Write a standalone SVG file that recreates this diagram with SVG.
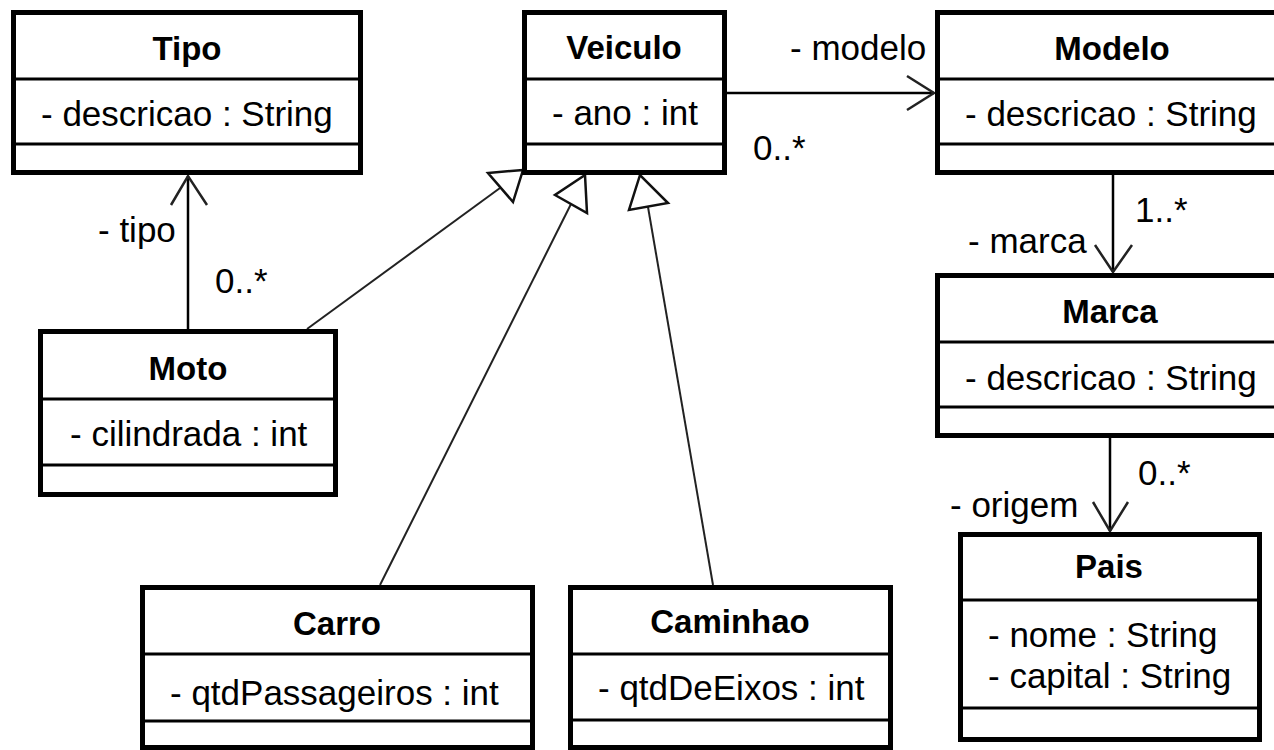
<svg xmlns="http://www.w3.org/2000/svg" width="1274" height="750" viewBox="0 0 1274 750">
<style>
.box{fill:#fff;stroke:#000;stroke-width:5}
.sep{stroke:#000;stroke-width:3}
.title{font-family:"Liberation Sans",Arial,sans-serif;font-size:33px;font-weight:bold;text-anchor:middle;fill:#000}
.attr{font-family:"Liberation Sans",Arial,sans-serif;font-size:35px;fill:#000}
.lbl{font-family:"Liberation Sans",Arial,sans-serif;font-size:35px;fill:#000}
.assoc{stroke:#000;stroke-width:2.5;fill:none}
.head{stroke:#222;stroke-width:2.5;fill:none}
.gen{stroke:#222;stroke-width:2;fill:none}
.tri{stroke:#111;stroke-width:2.5;fill:#fff}
</style>
<rect width="1274" height="750" fill="#fff"/>
<g id="connectors">
<line class="assoc" x1="188" y1="329" x2="188" y2="176"/>
<polyline class="head" points="171,205 188,176 207,205"/>
<line class="assoc" x1="727" y1="93" x2="934" y2="93"/>
<polyline class="head" points="907,76 934,93 907,110"/>
<line class="assoc" x1="1113" y1="175" x2="1113" y2="272"/>
<polyline class="head" points="1095,245 1113,272 1132,245"/>
<line class="assoc" x1="1110" y1="438" x2="1110" y2="531"/>
<polyline class="head" points="1093,502 1110,531 1128,502"/>
<line class="gen" x1="307" y1="329" x2="500" y2="188"/>
<polygon class="tri" points="523,170 488,173 513,202"/>
<line class="gen" x1="380" y1="585" x2="571" y2="204"/>
<polygon class="tri" points="585,175 555,195 587,213"/>
<line class="gen" x1="713" y1="585" x2="648" y2="207"/>
<polygon class="tri" points="640,175 629,210 668,203"/>
<text class="lbl" x="98" y="242">- tipo</text>
<text class="lbl" x="215" y="293">0..*</text>
<text class="lbl" x="790" y="60">- modelo</text>
<text class="lbl" x="753" y="160">0..*</text>
<text class="lbl" x="1135" y="222">1..*</text>
<text class="lbl" x="968" y="253">- marca</text>
<text class="lbl" x="1138" y="485">0..*</text>
<text class="lbl" x="950" y="517">- origem</text>
</g>
<g id="Tipo">
<rect class="box" x="13.5" y="12.5" width="347" height="160"/>
<line class="sep" x1="13" y1="79" x2="361" y2="79"/>
<line class="sep" x1="13" y1="144" x2="361" y2="144"/>
<text class="title" x="187" y="60">Tipo</text>
<text class="attr" x="41" y="126">- descricao : String</text>
</g>
<g id="Veiculo">
<rect class="box" x="524.5" y="12.5" width="200" height="160"/>
<line class="sep" x1="524" y1="79" x2="725" y2="79"/>
<line class="sep" x1="524" y1="144" x2="725" y2="144"/>
<text class="title" x="624" y="59">Veiculo</text>
<text class="attr" x="552" y="125">- ano : int</text>
</g>
<g id="Modelo">
<rect class="box" x="937.5" y="12.5" width="349" height="160"/>
<line class="sep" x1="937" y1="79" x2="1287" y2="79"/>
<line class="sep" x1="937" y1="144" x2="1287" y2="144"/>
<text class="title" x="1112" y="60">Modelo</text>
<text class="attr" x="965" y="126">- descricao : String</text>
</g>
<g id="Marca">
<rect class="box" x="937.5" y="275.5" width="349" height="160"/>
<line class="sep" x1="937" y1="342" x2="1287" y2="342"/>
<line class="sep" x1="937" y1="407" x2="1287" y2="407"/>
<text class="title" x="1110" y="323">Marca</text>
<text class="attr" x="965" y="390">- descricao : String</text>
</g>
<g id="Pais">
<rect class="box" x="960.5" y="534.5" width="299" height="205"/>
<line class="sep" x1="960" y1="600" x2="1260" y2="600"/>
<line class="sep" x1="960" y1="708" x2="1260" y2="708"/>
<text class="title" x="1109" y="578">Pais</text>
<text class="attr" x="988" y="647">- nome : String</text>
<text class="attr" x="988" y="688">- capital : String</text>
</g>
<g id="Moto">
<rect class="box" x="40.5" y="331.5" width="295" height="163"/>
<line class="sep" x1="40" y1="399" x2="336" y2="399"/>
<line class="sep" x1="40" y1="465" x2="336" y2="465"/>
<text class="title" x="188" y="380">Moto</text>
<text class="attr" x="70" y="446">- cilindrada : int</text>
</g>
<g id="Carro">
<rect class="box" x="142.5" y="587.5" width="390" height="160"/>
<line class="sep" x1="142" y1="654" x2="533" y2="654"/>
<line class="sep" x1="142" y1="721" x2="533" y2="721"/>
<text class="title" x="337" y="635">Carro</text>
<text class="attr" x="170" y="705">- qtdPassageiros : int</text>
</g>
<g id="Caminhao">
<rect class="box" x="570.5" y="587.5" width="320" height="160"/>
<line class="sep" x1="570" y1="654" x2="891" y2="654"/>
<line class="sep" x1="570" y1="720" x2="891" y2="720"/>
<text class="title" x="730" y="633">Caminhao</text>
<text class="attr" x="598" y="700">- qtdDeEixos : int</text>
</g>
</svg>
